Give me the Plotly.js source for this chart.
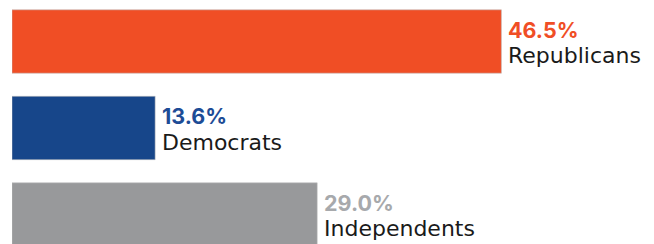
<!DOCTYPE html>
<html>
<head>
<meta charset="utf-8">
<script src="https://cdn.plot.ly/plotly-3.0.1.min.js"></script>
<style>html,body{margin:0;padding:0;background:#fff;}#chart{width:654px;height:244px;}</style>
</head>
<body>
<div id="chart"></div>
<script>
const categories = ["Republicans", "Democrats", "Independents"];
const values = [46.5, 13.6, 29.0];
const valueLabels = ["46.5%", "13.6%", "29.0%"];
const barColors = ["#F04E25", "#17468A", "#98999B"];
const labelColors = ["#F04E25", "#1D4C96", "#A7A9AC"];

const trace = {
  type: "bar",
  orientation: "h",
  y: categories,
  x: values,
  width: 0.732,
  marker: { color: barColors, line: { color: "rgba(190,190,190,0.55)", width: 1 } },
  hoverinfo: "skip"
};

const annotations = [];
categories.forEach((c, i) => {
  annotations.push({
    xref: "x", yref: "y", x: values[i], y: c,
    xanchor: "left", yanchor: "middle",
    xshift: 5, yshift: 12,
    text: valueLabels[i],
    showarrow: false,
    font: { family: "Inter, sans-serif", size: 21.5, weight: 700, color: labelColors[i] }
  });
  annotations.push({
    xref: "x", yref: "y", x: values[i], y: c,
    xanchor: "left", yanchor: "middle",
    xshift: 5, yshift: -14,
    text: c,
    showarrow: false,
    font: { family: "DejaVu Sans, sans-serif", size: 22, color: "#1a1a1a" }
  });
});

const layout = {
  width: 654, height: 244,
  margin: { l: 12, r: 0, t: 0, b: 0, pad: 0 },
  paper_bgcolor: "#ffffff", plot_bgcolor: "#ffffff",
  showlegend: false,
  xaxis: { range: [0, 61], visible: false, fixedrange: true },
  yaxis: { type: "category", categoryorder: "array", categoryarray: categories,
           range: [2.341, -0.4798], visible: false, fixedrange: true },
  annotations: annotations
};

Plotly.newPlot("chart", [trace], layout, { displayModeBar: false, staticPlot: true });
</script>
</body>
</html>
